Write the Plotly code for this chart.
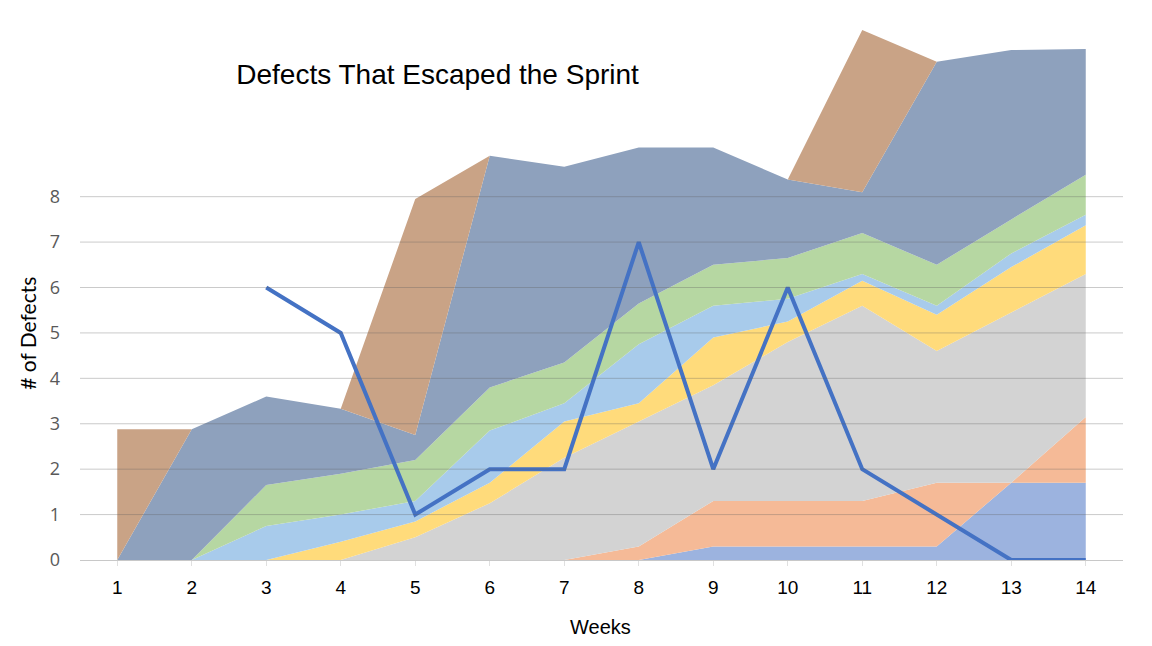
import plotly.graph_objects as go

# weekly data
weeks = list(range(1, 15))

blue_series = [0, 0, 0, 0, 0, 0, 0, 0, 0.3, 0.3, 0.3, 0.3, 1.7, 1.7]
orange_series = [0, 0, 0, 0, 0, 0, 0, 0.3, 1.0, 1.0, 1.0, 1.4, 0, 1.45]
grey_series = [0, 0, 0, 0, 0.5, 1.25, 2.25, 2.75, 2.55, 3.5, 4.3, 2.9, 3.75, 3.15]
yellow_series = [0, 0, 0, 0.4, 0.35, 0.45, 0.8, 0.4, 1.05, 0.45, 0.55, 0.8, 1.0, 1.07]
lightblue_series = [0, 0, 0.75, 0.6, 0.45, 1.15, 0.4, 1.3, 0.7, 0.5, 0.15, 0.2, 0.3, 0.23]
green_series = [0, 0, 0.9, 0.9, 0.9, 0.95, 0.9, 0.9, 0.9, 0.9, 0.9, 0.9, 0.75, 0.88]
slate_series = [0, 2.88, 1.95, 1.43, 0.55, 5.1, 4.31, 3.43, 2.58, 1.73, 0.9, 4.47, 3.73, 2.77]
brown_series = [2.88, 0, 0, 0, 5.2, 0, 0, 0, 0, 0, 3.57, 0, 0, 0]

escaped = [None, None, 6, 5, 1, 2, 2, 7, 2, 6, 2, 1, 0, 0]

y_ticks = [0, 1, 2, 3, 4, 5, 6, 7, 8]

layers = [
    (blue_series, "#9cb3df"),
    (orange_series, "#f5ba97"),
    (grey_series, "#d3d3d3"),
    (yellow_series, "#ffdb7b"),
    (lightblue_series, "#a8cbeb"),
    (green_series, "#b6d7a2"),
    (slate_series, "#8ea1bd"),
    (brown_series, "#c9a386"),
]

fig = go.Figure()

for vals, color in layers:
    fig.add_trace(go.Scatter(
        x=weeks, y=vals, stackgroup="defects", mode="lines",
        line=dict(width=0, color=color), fillcolor=color,
        hoverinfo="skip", showlegend=False,
    ))

fig.add_trace(go.Scatter(
    x=weeks, y=escaped, mode="lines",
    line=dict(color="#4472c4", width=4),
    showlegend=False,
))

# gridlines drawn over the areas, like the original
for t in y_ticks[1:]:
    fig.add_shape(type="line", xref="paper", yref="y", x0=0, x1=1, y0=t, y1=t,
                  line=dict(color="rgba(95,95,95,0.33)", width=1), layer="above")

# the page body has an 8px margin, so the figure is a bit smaller than the window
fig.update_layout(
    width=1144, height=638,
    margin=dict(l=72, r=29, t=7, b=86),
    paper_bgcolor="white", plot_bgcolor="white",
    title=dict(text="Defects That Escaped the Sprint", x=0.3755, y=0.897,
               xanchor="center", yanchor="middle",
               font=dict(family="Liberation Sans, Arial", size=28, color="black")),
)

fig.update_xaxes(
    range=[0.5, 14.5], tickvals=weeks, showgrid=False,
    showline=True, linecolor="#c8c8c8", linewidth=1,
    ticks="outside", ticklen=5, tickcolor="#e0e0e0", ticklabelstandoff=5,
    tickfont=dict(family="Liberation Sans, Arial", size=19, color="black"),
    zeroline=False,
)
fig.update_yaxes(
    range=[0, 12], tickvals=y_ticks, showgrid=False, zeroline=False,
    showline=False, ticklabelstandoff=19,
    tickfont=dict(family="Open Sans, Noto Sans", size=18, color="#595959"),
)

fig.add_annotation(text="# of Defects", xref="paper", yref="paper",
                   x=-0.051, y=0.4165, textangle=-90, showarrow=False,
                   xanchor="center", yanchor="middle",
                   font=dict(family="Lato, Noto Sans", size=21, color="black"))
fig.add_annotation(text="Weeks", xref="paper", yref="paper",
                   x=0.4986, y=-0.123, showarrow=False,
                   xanchor="center", yanchor="middle",
                   font=dict(family="Liberation Sans, Arial", size=20, color="black"))

fig.write_html("out.html")
